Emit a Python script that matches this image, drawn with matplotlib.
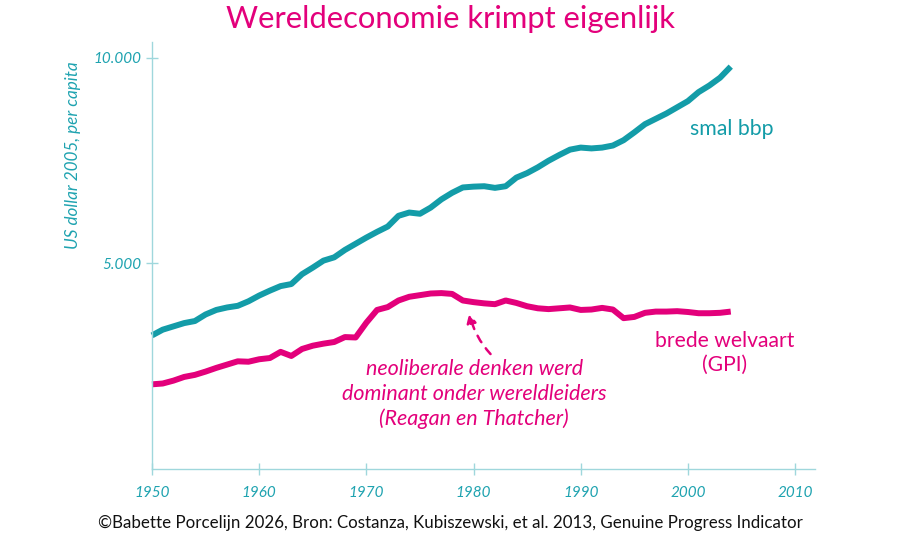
import numpy as np
import matplotlib
matplotlib.use("Agg")
import matplotlib.pyplot as plt

plt.rcParams['font.family'] = ['Lato', 'DejaVu Sans']

# jaren en waarden (US dollar 2005, per capita)
years = list(range(1950, 2005))
bbp = [3250, 3390, 3470, 3550, 3600, 3760, 3870, 3930, 3970, 4080,
       4220, 4340, 4450, 4500, 4740, 4900, 5070, 5150, 5330, 5480,
       5630, 5770, 5900, 6160, 6240, 6210, 6360, 6560, 6720, 6850,
       6870, 6880, 6840, 6880, 7090, 7200, 7340, 7500, 7640, 7770,
       7820, 7800, 7820, 7870, 8000, 8190, 8390, 8520, 8650, 8800,
       8950, 9170, 9330, 9520, 9790]
gpi = [2060, 2080, 2150, 2240, 2290, 2370, 2460, 2540, 2620, 2610,
       2670, 2700, 2850, 2750, 2920, 3000, 3050, 3090, 3210, 3200,
       3560, 3870, 3940, 4100, 4190, 4230, 4270, 4280, 4260, 4100,
       4060, 4030, 4010, 4100, 4040, 3960, 3910, 3890, 3910, 3930,
       3870, 3880, 3920, 3880, 3670, 3700, 3800, 3830, 3830, 3840,
       3820, 3790, 3790, 3800, 3830]

xticks = [1950, 1960, 1970, 1980, 1990, 2000, 2010]
yticks = [5000, 10000]
ytick_labels = ['5.000', '10.000']

TEAL = '#139ca8'
PINK = '#e3007b'
AXIS = '#9fd7dc'
LABEL = '#1fa3b0'

W, H = 900, 535
fig = plt.figure(figsize=(W / 100, H / 100), dpi=100)
ax = fig.add_axes([152 / W, (H - 469) / H, (815 - 152) / W, (469 - 42) / H])

ax.plot(years, bbp, color=TEAL, lw=4.3, solid_joinstyle='round',
        solid_capstyle='butt', clip_on=False)
ax.plot(years, gpi, color=PINK, lw=4.3, solid_joinstyle='round',
        solid_capstyle='butt', clip_on=False)

ax.set_xlim(1950.19, 2011.86)
ax.set_ylim(0, 10389)

for s in ['top', 'right']:
    ax.spines[s].set_visible(False)
for s in ['left', 'bottom']:
    ax.spines[s].set_color(AXIS)
    ax.spines[s].set_linewidth(1.0)

ax.set_xticks(xticks)
ax.set_xticklabels([str(t) for t in xticks])
ax.set_yticks(yticks)
ax.set_yticklabels(ytick_labels)
ax.tick_params(axis='both', direction='inout', length=9, width=1,
               color=AXIS, labelcolor=LABEL, labelsize=11)
ax.tick_params(axis='x', pad=8)
ax.tick_params(axis='y', pad=3)
for lab in ax.get_xticklabels() + ax.get_yticklabels():
    lab.set_fontstyle('italic')

fig.text(73 / W, 1 - 155 / H, 'US dollar 2005, per capita', rotation=90,
         color=LABEL, fontsize=12.3, fontstyle='italic',
         ha='center', va='center')

# titel
fig.text(450 / W, 1 - 19 / H, 'Wereldeconomie krimpt eigenlijk',
         color=PINK, fontsize=22.3, ha='center', va='center')

# reeks-labels
ax.text(2004.1, 8270, 'smal bbp', color=TEAL, fontsize=15.3,
        ha='center', va='center')
ax.text(2003.4, 3350, 'brede welvaart\n(GPI)', color=PINK, fontsize=15.2,
        ha='center', va='top', linespacing=1.2)

# annotatie
ax.annotate('neoliberale denken werd\ndominant onder wereldleiders\n(Reagan en Thatcher)',
            xy=(1979.6, 3790), xytext=(1980.05, 2680),
            color=PINK, fontsize=15.5, fontstyle='italic',
            ha='center', va='top', linespacing=1.3,
            arrowprops=dict(arrowstyle='-|>', color=PINK, lw=1.8,
                            linestyle=(0, (3, 3)), mutation_scale=14,
                            shrinkA=2, shrinkB=0,
                            connectionstyle='arc3,rad=-0.15',
                            relpos=(0.58, 1.0)))

fig.text(450 / W, 1 - 523 / H,
         '©Babette Porcelijn 2026, Bron: Costanza, Kubiszewski, et al. 2013, '
         'Genuine Progress Indicator',
         color='#111111', fontsize=12.2, ha='center', va='center')

fig.savefig('out.png', dpi=100)
